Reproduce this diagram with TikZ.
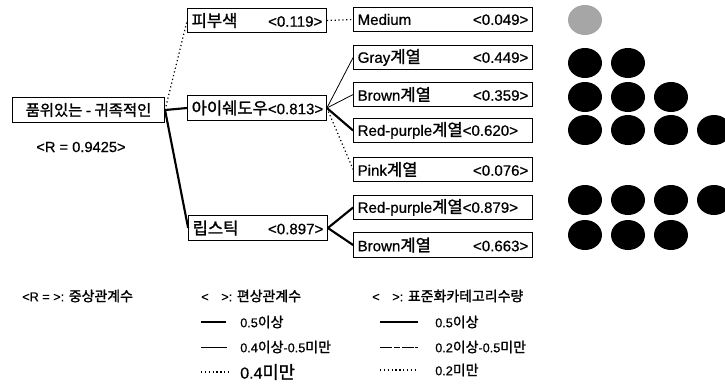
\documentclass[tikz,border=0pt]{standalone}
\usepackage{fontspec}
\setmainfont[FakeBold=0.6]{Liberation Sans}
\newfontfamily\kr[FakeBold=1.5, Scale=1.1]{Noto Sans CJK KR}
\usetikzlibrary{positioning,shapes.geometric}
\tikzset{
  box/.style={rectangle, draw, line width=0.8pt, inner sep=3pt, minimum height=18.5pt, font=\fontsize{11.3}{13}\selectfont, align=left},
  midbox/.style={box, text width=98pt},
  leafbox/.style={box, text width=128pt},
  strong/.style={line width=1.6pt},
  plain/.style={line width=0.6pt},
  weak/.style={line width=0.9pt, dotted},
  broken/.style={line width=0.6pt, dash pattern=on 9pt off 1.2pt on 5pt off 1.2pt},
  dot/.style={ellipse, fill=black, minimum width=25.5pt, minimum height=22.5pt, inner sep=0pt},
  lgd/.style={font=\fontsize{9.5}{11}\selectfont, anchor=west, inner sep=0pt}
}
\newcommand{\rpad}{\hspace*{8pt}}

\begin{document}
\begin{tikzpicture}[x=0.75pt, y=-0.75pt]
    \useasboundingbox (0,0) rectangle (725,383);

    % root
    \node[box, minimum width=114pt, font=\fontsize{10.5}{12}\selectfont\kr] (root) at (88.5,110) {품위있는 - 귀족적인};
    \node[font=\fontsize{11}{13}\selectfont] (rval) at (81,147) {<R = 0.9425>};

    % items
    \node[midbox] (skin) at (257,20.5) {{\kr 피부색}\hfill<0.119>\rpad};
    \node[midbox] (eye) at (257,108) {{\kr 아이쉐도우}<0.813>};
    \node[midbox] (lip) at (258,228) {{\kr 립스틱}\hfill<0.897>\rpad};

    % categories
    \node[leafbox] (med) at (443,19.5) {Medium\hfill<0.049>\rpad};
    \node[leafbox] (gray) at (443,57.5) {Gray{\kr 계열}\hfill<0.449>\rpad};
    \node[leafbox] (brown) at (443,94.5) {Brown{\kr 계열}\hfill<0.359>\rpad};
    \node[leafbox] (red) at (443,130.5) {Red-purple{\kr 계열}<0.620>};
    \node[leafbox] (pink) at (443,169.5) {Pink{\kr 계열}\hfill<0.076>\rpad};
    \node[leafbox] (redl) at (443,207.5) {Red-purple{\kr 계열}<0.879>};
    \node[leafbox] (brownl) at (443,245) {Brown{\kr 계열}\hfill<0.663>\rpad};

    % partial correlations
    \draw[weak] (root.east) -- (skin.west);
    \draw[strong] (root.east) -- (eye.west);
    \draw[strong] (root.east) -- (lip.west);

    % category quantities
    \draw[weak] (skin.east) -- (med.west);
    \draw[plain] (eye.east) -- (gray.west);
    \draw[plain] (eye.east) -- (brown.west);
    \draw[strong] (eye.east) -- (red.west);
    \draw[weak] (eye.east) -- (pink.west);
    \draw[strong] (lip.east) -- (redl.west);
    \draw[strong] (lip.east) -- (brownl.west);

    % dots
    \node[dot, fill=black!35] (dmed) at (585,20) {};
    \foreach \i/\y/\n in {a/63/2, b/97/3, c/130/4, d/200/4, e/235/3} {
      \foreach \k in {1,...,\n} {
        \node[dot] (d\i\k) at (542+43*\k,\y) {};
      }
    }

    % legend
    \node[lgd] (lr) at (22,296) {<R = >: {\kr 중상관계수}};
    \node[lgd] (lp) at (201,296) {<\quad>: {\kr 편상관계수}};
    \node[lgd] (lc) at (372,296) {<\quad>: {\kr 표준화카테고리수량}};

    \coordinate (pa1) at (201,322); \coordinate (pa2) at (226,322);
    \coordinate (pb1) at (201,347); \coordinate (pb2) at (227,347);
    \coordinate (pc1) at (201,372); \coordinate (pc2) at (230,372);
    \draw[strong] (pa1) -- (pa2);
    \draw[plain] (pb1) -- (pb2);
    \draw[weak] (pc1) -- (pc2);
    \node[lgd] (ta) at (240,322) {0.5{\kr 이상}};
    \node[lgd] (tb) at (240,347) {0.4{\kr 이상}-0.5{\kr 미만}};
    \node[lgd, font=\fontsize{12}{14}\selectfont] (tc) at (240,372) {0.4{\kr 미만}};

    \coordinate (qa1) at (380,322); \coordinate (qa2) at (418,322);
    \coordinate (qb1) at (380,347); \coordinate (qb2) at (418,347);
    \coordinate (qc1) at (380,370); \coordinate (qc2) at (418,370);
    \draw[strong] (qa1) -- (qa2);
    \draw[broken] (qb1) -- (qb2);
    \draw[weak] (qc1) -- (qc2);
    \node[lgd] (ua) at (435,322) {0.5{\kr 이상}};
    \node[lgd] (ub) at (435,347) {0.2{\kr 이상}-0.5{\kr 미만}};
    \node[lgd] (uc) at (435,370) {0.2{\kr 미만}};
\end{tikzpicture}
\end{document}
